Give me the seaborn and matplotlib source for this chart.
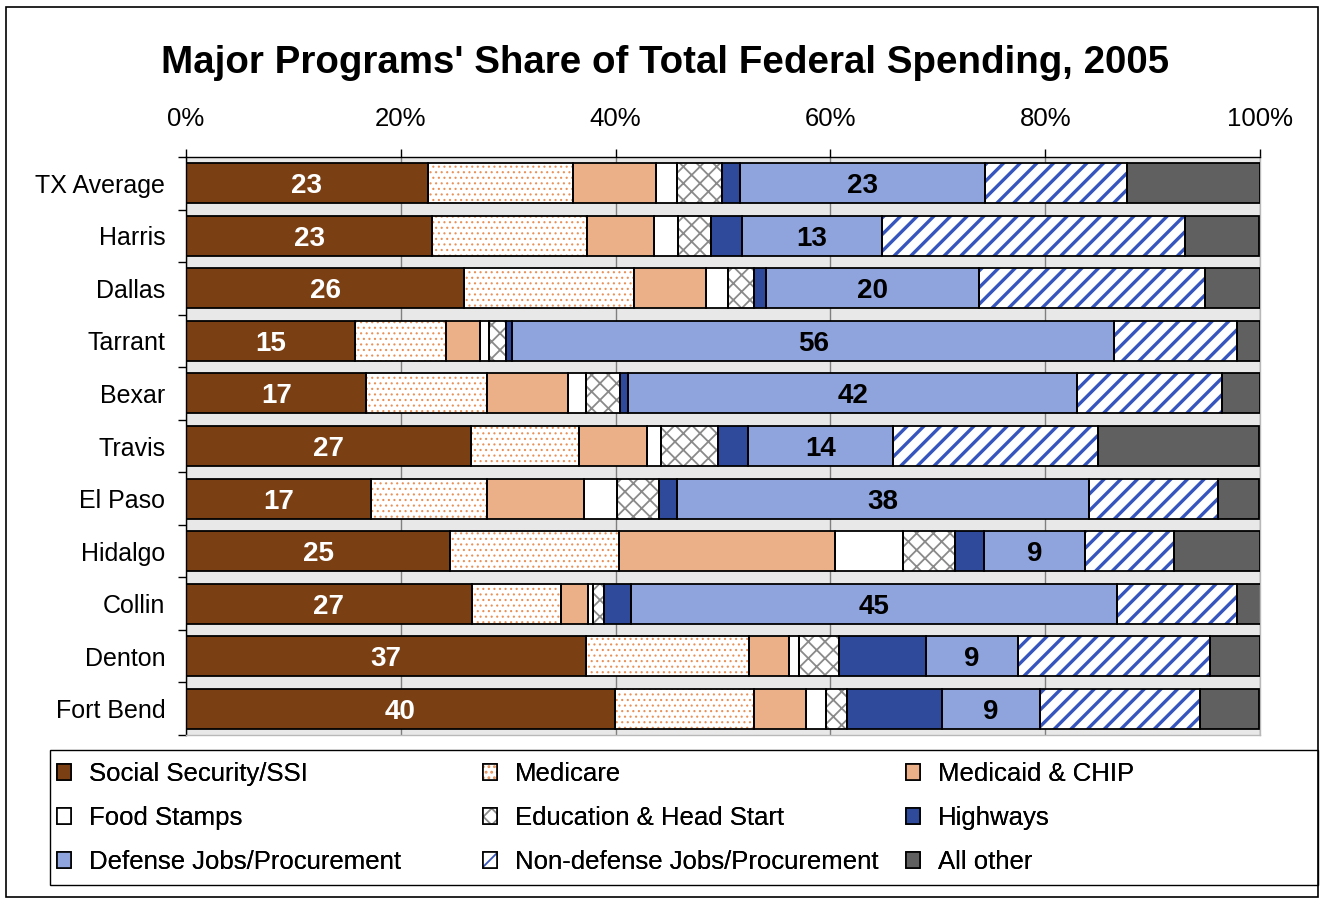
import matplotlib
matplotlib.use("Agg")
import matplotlib.pyplot as plt
import seaborn as sns
import numpy as np
from matplotlib.patches import Rectangle, Patch
from matplotlib.ticker import FixedLocator

# ---------------- data ----------------
counties = ["TX Average", "Harris", "Dallas", "Tarrant", "Bexar", "Travis",
            "El Paso", "Hidalgo", "Collin", "Denton", "Fort Bend"]
social_security = [22.5, 22.95, 25.9, 15.7, 16.8, 26.5, 17.2, 24.6, 26.6, 37.2, 39.9]
medicare        = [13.5, 14.4, 15.8, 8.5, 11.2, 10.1, 10.8, 15.7, 8.3, 15.2, 13.0]
medicaid_chip   = [7.8, 6.2, 6.7, 3.2, 7.6, 6.3, 9.1, 20.1, 2.5, 3.7, 4.8]
food_stamps     = [1.9, 2.3, 2.1, 0.8, 1.6, 1.3, 3.0, 6.4, 0.5, 1.0, 1.9]
education       = [4.2, 3.0, 2.4, 1.6, 3.2, 5.3, 3.9, 4.8, 1.0, 3.7, 1.9]
highways        = [1.7, 2.9, 1.1, 0.6, 0.8, 2.8, 1.7, 2.7, 2.5, 8.1, 8.9]
defense         = [22.8, 13.1, 19.8, 56.0, 41.8, 13.5, 38.4, 9.4, 45.3, 8.6, 9.1]
non_defense     = [13.2, 28.2, 21.1, 11.5, 13.5, 19.1, 12.0, 8.3, 11.2, 17.8, 14.9]
all_other       = [12.4, 6.9, 5.1, 2.1, 3.5, 15.0, 3.8, 8.0, 2.2, 4.7, 5.5]

ss_labels      = [23, 23, 26, 15, 17, 27, 17, 25, 27, 37, 40]
defense_labels = [23, 13, 20, 56, 42, 14, 38, 9, 45, 9, 9]

x_ticks = [0, 20, 40, 60, 80, 100]
x_tick_labels = ["0%", "20%", "40%", "60%", "80%", "100%"]

series_names = ["Social Security/SSI", "Medicare", "Medicaid & CHIP", "Food Stamps",
                "Education & Head Start", "Highways", "Defense Jobs/Procurement",
                "Non-defense Jobs/Procurement", "All other"]
series_values = [social_security, medicare, medicaid_chip, food_stamps, education,
                 highways, defense, non_defense, all_other]

# ---------------- styles ----------------
styles = {
    "Social Security/SSI":          dict(fc="#7B3F14", hatch=None,  hc=None,      hlw=1.0),
    "Medicare":                     dict(fc="#FFFFFF", hatch="...", hc="#E8925A", hlw=0.8),
    "Medicaid & CHIP":              dict(fc="#EBB088", hatch=None,  hc=None,      hlw=1.0),
    "Food Stamps":                  dict(fc="#FFFFFF", hatch=None,  hc=None,      hlw=1.0),
    "Education & Head Start":       dict(fc="#FFFFFF", hatch="xx",  hc="#8A8A8A", hlw=1.3),
    "Highways":                     dict(fc="#2F4A9B", hatch=None,  hc=None,      hlw=1.0),
    "Defense Jobs/Procurement":     dict(fc="#8FA3DD", hatch=None,  hc=None,      hlw=1.0),
    "Non-defense Jobs/Procurement": dict(fc="#FFFFFF", hatch="//",  hc="#3656BE", hlw=2.4),
    "All other":                    dict(fc="#606060", hatch=None,  hc=None,      hlw=1.0),
}

sns.set_style("white")
plt.rcParams["font.family"] = ["Liberation Sans", "DejaVu Sans"]
plt.rcParams["hatch.linewidth"] = 1.3
for k in ["text.color", "axes.labelcolor", "xtick.color", "ytick.color"]:
    plt.rcParams[k] = "black"

W, H = 1320, 900
fig = plt.figure(figsize=(W / 100, H / 100), dpi=100)
ax = fig.add_axes([186 / W, 1 - 735 / H, (1260 - 186) / W, (735 - 157) / H])
ax.set_facecolor("#E8E8E8")

bar_h = 0.76
left = np.zeros(len(counties))
containers = {}
for name, vals in zip(series_names, series_values):
    st = styles[name]
    n_before = len(ax.patches)
    sns.barplot(x=vals, y=counties, orient="y", ax=ax, left=left.copy(), width=bar_h,
                errorbar=None, color=st["fc"], saturation=1, facecolor=st["fc"],
                edgecolor=st["hc"] if st["hc"] else st["fc"],
                hatch=st["hatch"], linewidth=0, zorder=2)
    containers[name] = ax.containers[-1]
    for p in ax.patches[n_before:]:
        if st["hatch"] and hasattr(p, "set_hatch_linewidth"):
            p.set_hatch_linewidth(st["hlw"])
    # black outline
    sns.barplot(x=vals, y=counties, orient="y", ax=ax, left=left.copy(), width=bar_h,
                errorbar=None, color="black", saturation=1, facecolor="none",
                edgecolor="black", linewidth=1.3, zorder=3)
    left += np.array(vals)

lab1 = ax.bar_label(containers["Social Security/SSI"], labels=[str(v) for v in ss_labels],
                    label_type="center", color="white", fontsize=20, fontweight="bold", zorder=5)
lab2 = ax.bar_label(containers["Defense Jobs/Procurement"], labels=[str(v) for v in defense_labels],
                    label_type="center", color="black", fontsize=20, fontweight="bold", zorder=5)
for t in list(lab1) + list(lab2):
    t.set_va("center_baseline")

ax.set_xlim(0, 100)
ax.set_ylim(len(counties) - 0.5, -0.5)
ax.set_xlabel("")
ax.set_ylabel("")

# x axis on top
ax.xaxis.tick_top()
ax.set_xticks(x_ticks)
ax.set_xticklabels(x_tick_labels, fontsize=18.5)
ax.tick_params(axis="x", which="major", direction="out", length=6, width=1,
               color="black", pad=13, top=True, bottom=False)
ax.grid(axis="x", color="#808080", linewidth=1)
ax.grid(axis="y", visible=False)
ax.set_axisbelow(True)

# y axis
ax.tick_params(axis="y", which="major", length=0, pad=15, labelsize=18)
ax.yaxis.set_minor_locator(FixedLocator(np.arange(-0.5, len(counties), 1.0)))
ax.tick_params(axis="y", which="minor", direction="out", length=6, width=1,
               color="black", left=True)

for side in ["top", "left"]:
    ax.spines[side].set_visible(True)
    ax.spines[side].set_color("black")
    ax.spines[side].set_linewidth(1)
for side in ["right", "bottom"]:
    ax.spines[side].set_visible(True)
    ax.spines[side].set_color("#B8B8B8")
    ax.spines[side].set_linewidth(1)

# title
fig.text(665 / W, 1 - 63 / H, "Major Programs' Share of Total Federal Spending, 2005",
         ha="center", va="center", fontsize=27.7, fontweight="bold", color="black")

# legend: three columns laid out like the original (row-major order)
def handle_for(name):
    st = styles[name]
    fill = Patch(facecolor=st["fc"], edgecolor=st["hc"] if st["hc"] else st["fc"],
                 hatch=st["hatch"], linewidth=0)
    outline = Patch(facecolor="none", edgecolor="black", linewidth=1.2)
    return (fill, outline)

col_x = [57, 483, 906]
for c in range(3):
    names = series_names[c::3]
    leg = fig.legend([handle_for(n) for n in names], names,
                     loc="upper left", bbox_to_anchor=(col_x[c] / W, 1 - 762 / H),
                     frameon=False, fontsize=18.5, handlelength=0.55, handleheight=0.55,
                     handletextpad=0.7, labelspacing=0.78, borderpad=0, borderaxespad=0)
    for t in leg.get_texts():
        t.set_color("black")
    fig.add_artist(leg)

fig.patches.append(Rectangle((50 / W, 1 - 885 / H), (1318 - 50) / W, (885 - 750) / H,
                             transform=fig.transFigure, fill=False, edgecolor="black",
                             linewidth=1, zorder=1))
# outer frame
fig.patches.append(Rectangle((6.5 / W, 1 - 897 / H), (1318 - 6.5) / W, (897 - 6.5) / H,
                             transform=fig.transFigure, fill=False, edgecolor="black",
                             linewidth=1.2, zorder=1))

fig.savefig("out.png", dpi=100)
